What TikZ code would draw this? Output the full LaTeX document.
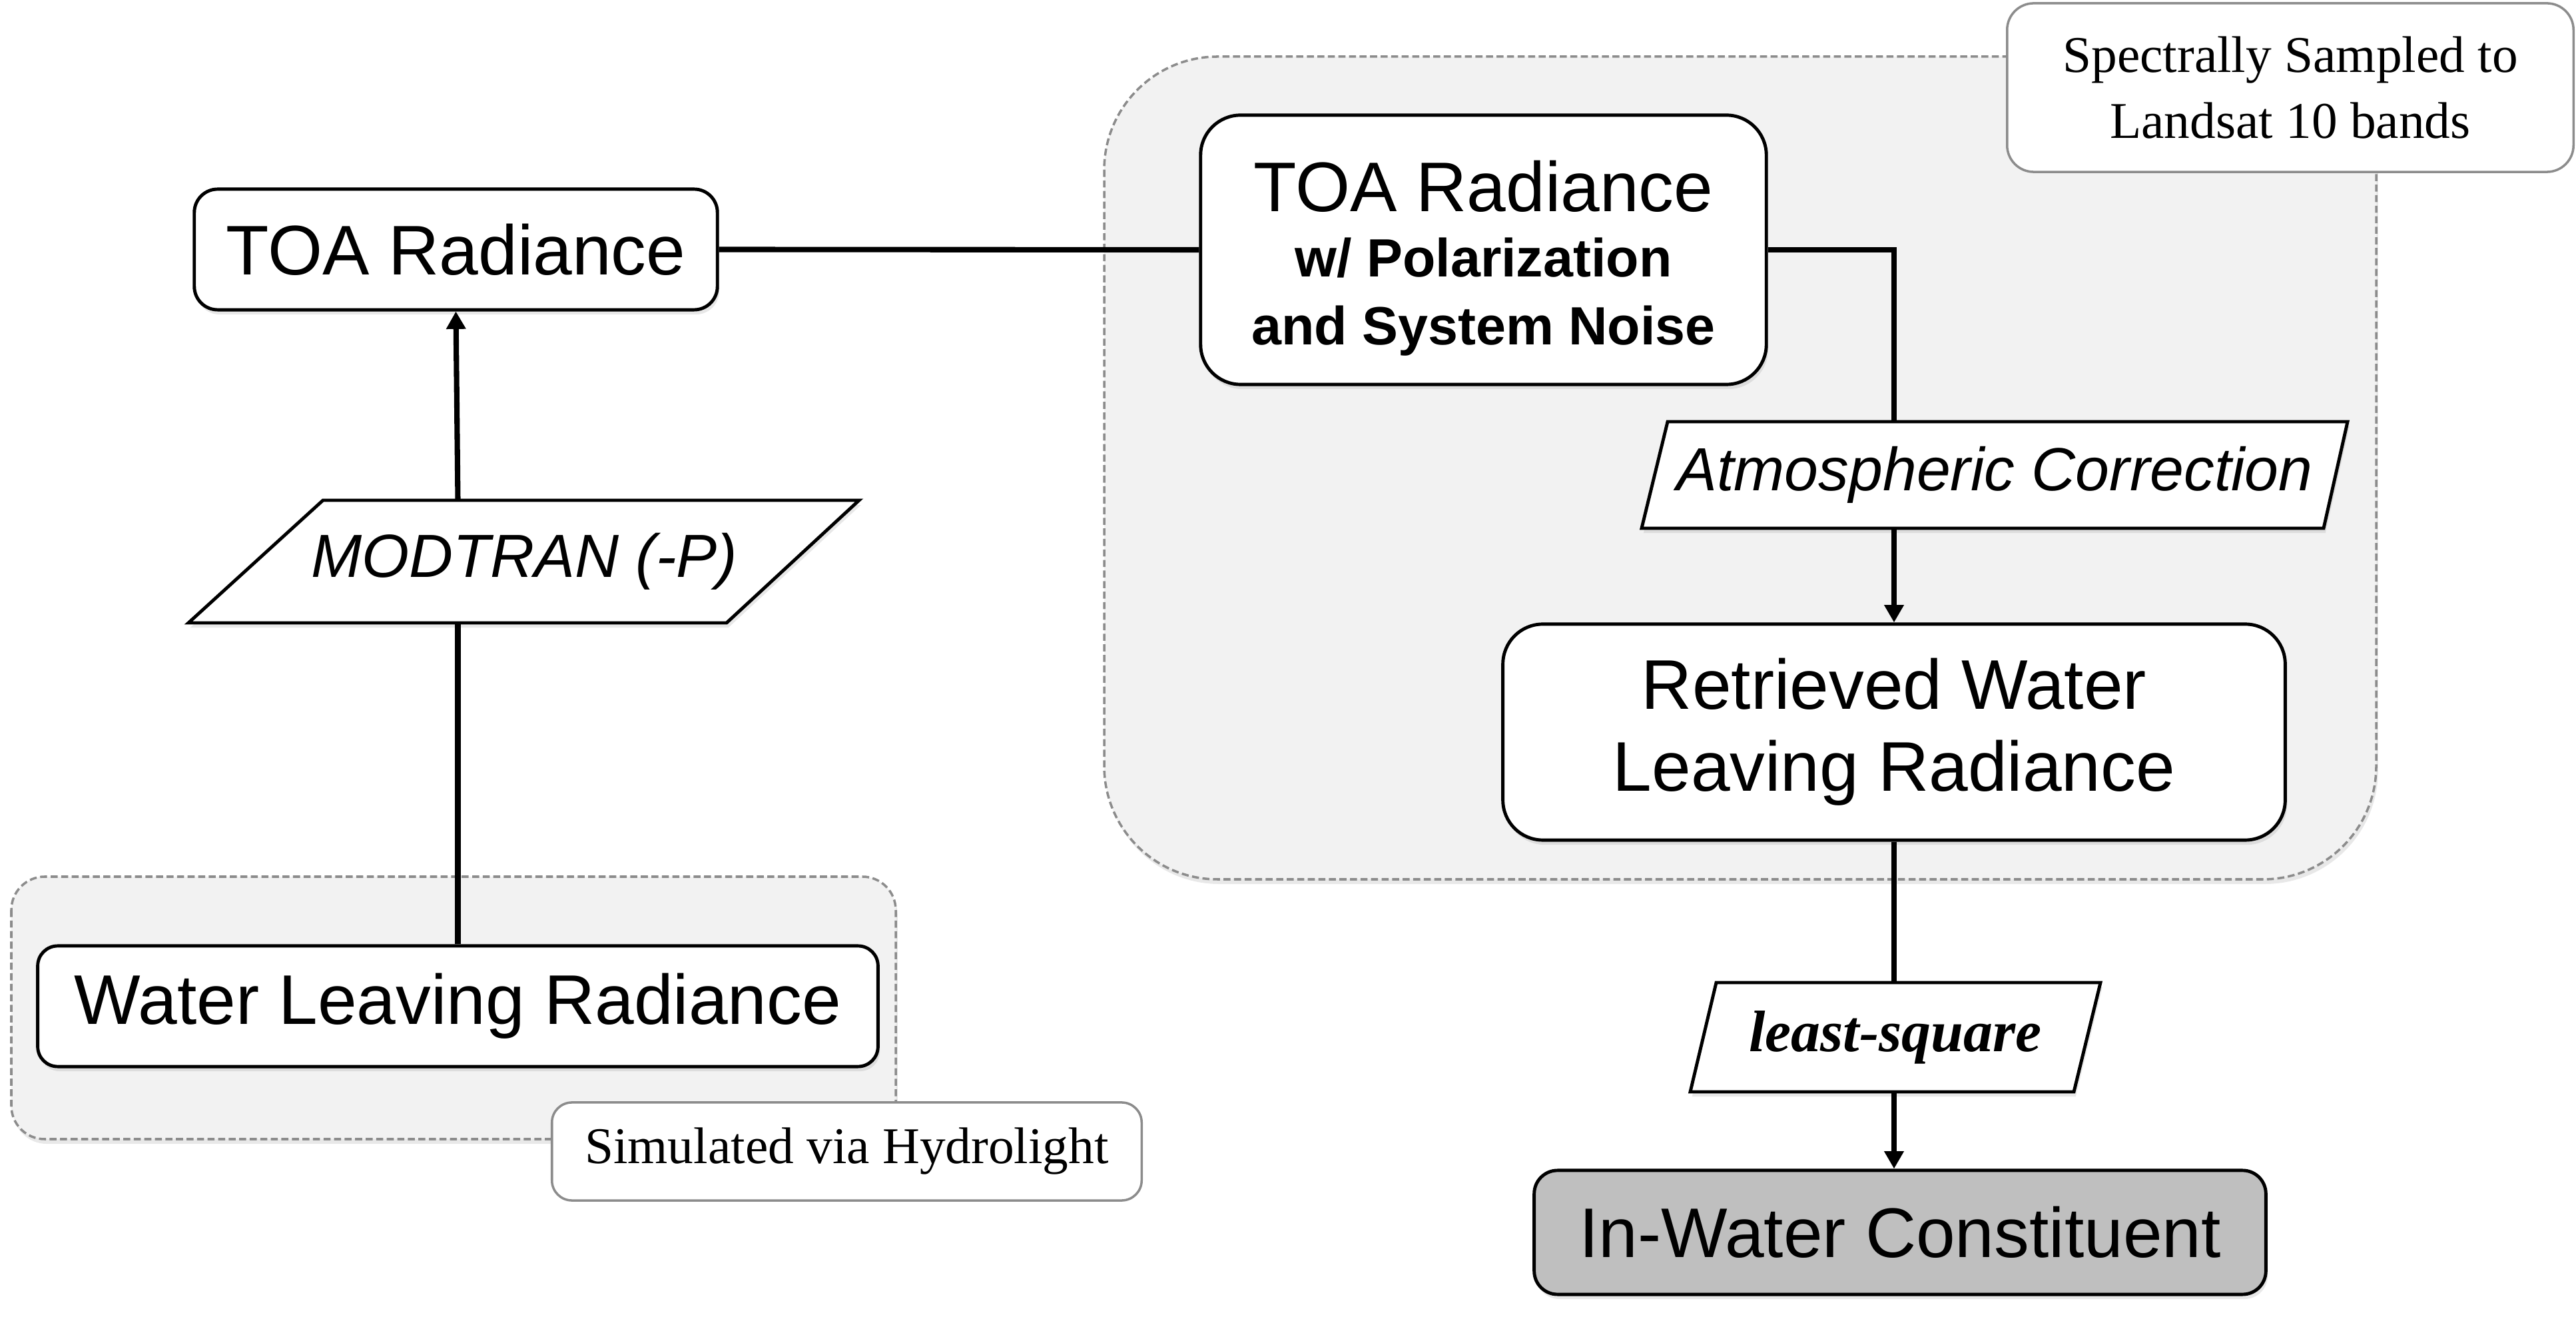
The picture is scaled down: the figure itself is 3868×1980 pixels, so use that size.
\documentclass[tikz,border=0pt]{standalone}
\usepackage{fontspec}
\setmainfont{Liberation Serif}
\newfontfamily\arialf{Liberation Sans}
\usetikzlibrary{arrows.meta,shadows,calc}
\definecolor{grpfill}{HTML}{F2F2F2}
\definecolor{grpline}{HTML}{8C8C8C}
\definecolor{outfill}{HTML}{BFBFBF}
\begin{document}
\begin{tikzpicture}[x=0.01cm,y=-0.01cm,
  shad/.style={drop shadow={shadow xshift=0.8pt, shadow yshift=-2pt, opacity=0.18}},
  box/.style={draw=black, line width=1.4pt, fill=white, rounded corners=#1, inner sep=0pt,
     font=\arialf\fontsize{30}{35}\selectfont, align=center, shad},
  box/.default=0.35cm,
  note/.style={draw=grpline, line width=1pt, fill=white, rounded corners=#1, inner sep=0pt,
     font=\fontsize{22}{27}\selectfont, align=center},
  note/.default=0.35cm,
  group/.style={draw=grpline, line width=1pt, dash pattern=on 3pt off 1.5pt, fill=grpfill,
     rounded corners=#1, shad},
  para/.style={draw=black, line width=1.4pt, fill=white, line join=miter, shad},
  ptext/.style={inner sep=0pt, minimum width=2cm},
  conn/.style={line width=2.3pt, draw=black},
  arr/.style={conn, -{Triangle[length=7.5pt,width=8pt]}}
]
\useasboundingbox (0,0) rectangle (3868,1980);

% groups
\path[group=1.7cm] (1658,85) rectangle (3568,1320);
\path[group=0.5cm] (17,1316) rectangle (1345,1710);

% parallelograms
\path[para] (485,751) -- (1290,751) -- (1091,935) -- (283,935) -- cycle;
\path[para] (2504,633) -- (3525,633) -- (3489,793) -- (2465,793) -- cycle;
\path[para] (2577,1475) -- (3154,1475) -- (3114,1639) -- (2538,1639) -- cycle;

\node[ptext, minimum height=1.84cm, font=\arialf\itshape\fontsize{26}{30}\selectfont] (modtran) at (787,843) {MODTRAN (-P)};
\node[ptext, minimum height=1.60cm, font=\arialf\itshape\fontsize{26}{30}\selectfont] (atm) at (2995,713) {Atmospheric Correction};
\node[ptext, minimum height=1.64cm, font=\bfseries\itshape\fontsize{25}{30}\selectfont] (lsq) at (2846,1557) {least-square};

% boxes
\node[box, minimum width=7.85cm, minimum height=1.81cm] (ltoa) at (684.5,374.5) {TOA Radiance};
\node[box=0.6cm, minimum width=8.49cm, minimum height=4.04cm] (rtoa) at (2227.5,375)
  {\rule{0pt}{29pt}TOA Radiance\\[-7pt]{\fontsize{23}{29}\selectfont\bfseries w/ Polarization}\\[-6pt]{\fontsize{23}{29}\selectfont\bfseries and System Noise}};
\node[box=0.6cm, minimum width=11.74cm, minimum height=3.24cm] (retr) at (2844,1099)
  {Retrieved Water\\Leaving Radiance};
\node[box, minimum width=10.98cm, minimum height=1.86cm, fill=outfill] (inw) at (2853,1850) {In-Water Constituent};
\node[box=0.3cm, minimum width=12.61cm, minimum height=1.81cm] (wlr) at (687.5,1510.5) {Water Leaving Radiance};

% notes
\node[note=0.4cm, minimum width=8.5cm, minimum height=2.53cm] (spec) at (3439,131.5)
  {Spectrally Sampled to\\[1pt]Landsat 10 bands};
\node[note=0.3cm, minimum width=8.85cm, minimum height=1.47cm] (sim) at (1271.5,1728.5)
  {Simulated via Hydrolight};

% connectors
\draw[conn] (ltoa.east) -- (rtoa.west);
\draw[conn] (rtoa.east) -| (retr.north |- atm.north);
\draw[arr] (retr.north |- atm.south) -- (retr.north);
\draw[conn] (retr.south) -- (retr.south |- lsq.north);
\draw[arr] (retr.south |- lsq.south) -- (retr.south |- inw.north);
\draw[conn] (wlr.north) -- (wlr.north |- modtran.south);
\draw[arr] (wlr.north |- modtran.north) -- (ltoa.south);
\end{tikzpicture}
\end{document}
